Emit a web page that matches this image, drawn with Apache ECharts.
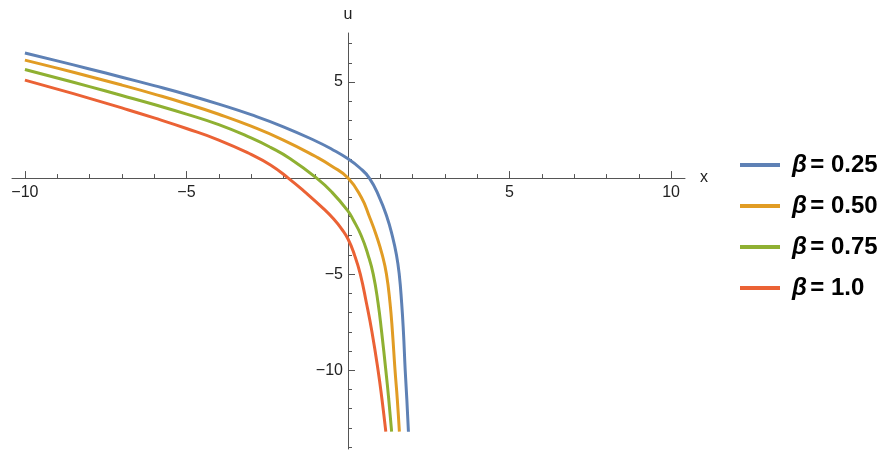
<!DOCTYPE html>
<html>
<head>
<meta charset="utf-8">
<script src="https://cdn.jsdelivr.net/npm/echarts@6/dist/echarts.min.js"></script>
<style>
  html, body { margin: 0; padding: 0; background: #fff; }
  #main { width: 884px; height: 450px; }
</style>
</head>
<body>
<div id="main"></div>
<script>
// values
const names = ['β = 0.25', 'β = 0.50', 'β = 0.75', 'β = 1.0'];
const colors = ['#5E81B5', '#E19C24', '#8FB032', '#EB6235'];

const blueX = [-10, -9, -8, -7, -6, -5, -4, -3, -2, -1, -0.5, 0, 0.35, 0.66, 0.97, 1.2, 1.37, 1.5, 1.585, 1.66, 1.715, 1.77, 1.82, 1.87];
const blueU = [6.51, 6.1, 5.68, 5.25, 4.81, 4.35, 3.85, 3.3, 2.67, 1.93, 1.5, 1.0, 0.55, 0, -1, -2, -3, -4, -5, -6.5, -8, -10, -11.5, -13.2];

const orangeX = [-10, -9, -8, -7, -6, -5, -4, -3, -2, -1, -0.5, 0, 0.41, 0.66, 0.88, 1.06, 1.19, 1.3, 1.375, 1.455, 1.525, 1.59];
const orangeU = [6.14, 5.72, 5.29, 4.84, 4.37, 3.87, 3.32, 2.7, 1.98, 1.12, 0.62, 0, -1, -2, -3, -4, -5, -6.5, -8, -10, -11.5, -13.2];

const greenX = [-10, -9, -8, -7, -6, -5, -4, -3, -2.4, -1.8, -0.97, -0.5, 0, 0.16, 0.41, 0.62, 0.78, 0.93, 1.04, 1.17, 1.26, 1.35];
const greenU = [5.65, 5.21, 4.76, 4.3, 3.83, 3.33, 2.78, 2.09, 1.6, 1.02, 0, -0.73, -1.72, -2.17, -3, -4, -5, -6.5, -8, -10, -11.5, -13.2];

const redX = [-10, -9, -8, -7, -6, -5, -4, -3, -2.4, -1.85, -1.3, -0.76, -0.45, -0.2, 0, 0.2, 0.38, 0.57, 0.74, 0.93, 1.05, 1.17];
const redU = [5.1, 4.63, 4.15, 3.65, 3.13, 2.58, 1.98, 1.23, 0.68, 0, -0.77, -1.59, -2.12, -2.64, -3.17, -4, -5, -6.5, -8, -10, -11.5, -13.2];

// ticks
const xMajor = [-10, -5, 5, 10];
const xMinor = [-9, -8, -7, -6, -4, -3, -2, -1, 1, 2, 3, 4, 6, 7, 8, 9];
const yMajor = [-10, -5, 5];
const yMinor = [-14, -13, -12, -11, -9, -8, -7, -6, -4, -3, -2, -1, 1, 2, 3, 4, 6, 7];

const xs = [blueX, orangeX, greenX, redX];
const us = [blueU, orangeU, greenU, redU];

const W = 884, H = 450;
const gLeft = 12, gRight = 199, gTop = 33, gBottom = 1;
const xMin = -10.4, xMax = 10.43, yMin = -14.1, yMax = 7.55;
// shift the axes so they cross at the origin
const xOff = -(0 - yMin) / (yMax - yMin) * (H - gTop - gBottom);
const yOff = -(0 - xMin) / (xMax - xMin) * (W - gLeft - gRight);

const axisColor = '#555';
const font = 'Liberation Sans, Arial, sans-serif';
const fmt = v => (v < 0 ? '\u2212' + (-v) : '' + v);

let chart = echarts.init(document.getElementById('main'));

const majorAxis = (min, max, ticks, pos, off, extra) => Object.assign({
  type: 'value', min: min, max: max, position: pos, offset: off,
  axisLine: { onZero: false, lineStyle: { color: axisColor, width: 1 } },
  axisTick: { inside: true, length: 7, customValues: ticks, lineStyle: { color: axisColor } },
  splitLine: { show: false },
  nameTextStyle: { color: '#222', fontSize: 16, fontFamily: font }
}, extra);

const minorAxis = (min, max, ticks, pos, off) => ({
  type: 'value', min: min, max: max, position: pos, offset: off,
  axisLine: { show: false, onZero: false },
  axisTick: { inside: true, length: 4, customValues: ticks, lineStyle: { color: axisColor } },
  axisLabel: { show: false },
  splitLine: { show: false }
});

chart.setOption({
  animation: false,
  grid: { left: gLeft, right: gRight, top: gTop, bottom: gBottom, containLabel: false, outerBoundsMode: 'none' },
  xAxis: [
    majorAxis(xMin, xMax, xMajor, 'bottom', xOff, { name: 'x', nameLocation: 'end', nameGap: 15,
      axisLabel: { customValues: xMajor, formatter: fmt, color: '#222', fontSize: 16, fontFamily: font, margin: 7 } }),
    minorAxis(xMin, xMax, xMinor, 'bottom', xOff)
  ],
  yAxis: [
    majorAxis(yMin, yMax, yMajor, 'left', yOff, { name: 'u', nameLocation: 'end', nameGap: 10,
      axisLabel: { customValues: yMajor, formatter: fmt, color: '#222', fontSize: 16, fontFamily: font, margin: 5 } }),
    minorAxis(yMin, yMax, yMinor, 'left', yOff)
  ],
  legend: {
    orient: 'vertical',
    left: 735,
    top: 148,
    icon: 'rect',
    itemWidth: 40,
    itemHeight: 4,
    itemGap: 17,
    data: names,
    formatter: name => '{b|β} {t|' + name.slice(2) + '}',
    textStyle: {
      padding: [0, 0, 0, 7],
      rich: {
        b: { fontSize: 24, fontWeight: 'bold', fontStyle: 'italic', color: '#000', fontFamily: font, lineHeight: 28 },
        t: { fontSize: 24, fontWeight: 'bold', color: '#000', fontFamily: font, lineHeight: 28 }
      }
    }
  },
  series: names.map((n, i) => ({
    name: n,
    type: 'line',
    xAxisIndex: 0,
    yAxisIndex: 0,
    showSymbol: false,
    smooth: 0.5,
    data: xs[i].map((x, k) => [x, us[i][k]]),
    lineStyle: { width: 3, color: colors[i] },
    itemStyle: { color: colors[i] }
  }))
});
</script>
</body>
</html>
